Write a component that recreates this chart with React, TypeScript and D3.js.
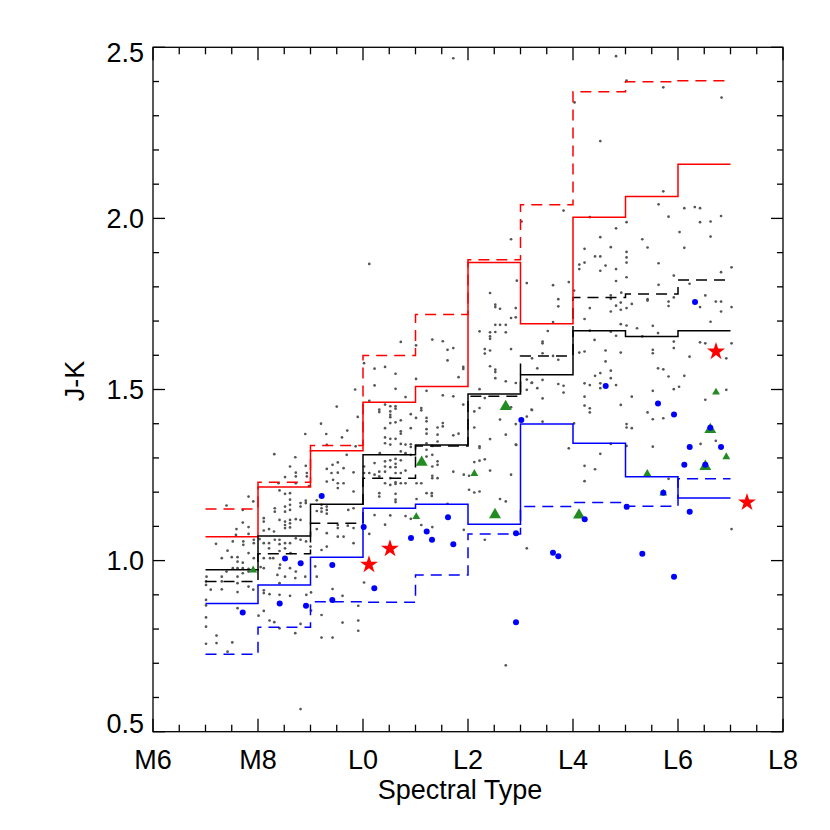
import React from "react";
import * as d3 from "d3";

// ---- Data ----
const binEdges = [7, 8, 9, 10, 11, 12, 13, 14, 15, 16, 17];
const redSolid = [1.070, 1.215, 1.321, 1.463, 1.509, 1.871, 1.692, 2.003, 2.064, 2.158];
const redDashed = [1.151, 1.229, 1.336, 1.599, 1.719, 1.879, 2.040, 2.370, 2.399, 2.402];
const blackSolid = [0.973, 1.072, 1.165, 1.309, 1.338, 1.487, 1.543, 1.672, 1.655, 1.672];
const blackDashed = [0.939, 1.020, 1.109, 1.241, 1.335, 1.480, 1.598, 1.769, 1.779, 1.820];
const blueSolid = [0.875, 0.929, 1.010, 1.153, 1.165, 1.106, 1.399, 1.343, 1.245, 1.183];
const blueDashed = [0.726, 0.805, 0.880, 0.878, 0.958, 1.078, 1.158, 1.170, 1.159, 1.239];

const xTickValues = [6, 8, 10, 12, 14, 16, 18];
const xTickLabels = ["M6", "M8", "L0", "L2", "L4", "L6", "L8"];
const yTickValues = [0.5, 1.0, 1.5, 2.0, 2.5];
const yTickLabels = ["0.5", "1.0", "1.5", "2.0", "2.5"];

const blueDots: [number, number][] = [
  [9.213, 1.189], [8.514, 1.006], [8.813, 0.992], [9.415, 0.987], [10.013, 1.098],
  [8.413, 0.875], [8.914, 0.868], [7.709, 0.848], [9.415, 0.885], [11.619, 1.127],
  [11.213, 1.085], [10.914, 1.066], [11.314, 1.061], [11.720, 1.048], [12.914, 1.080],
  [13.015, 1.411], [10.215, 0.919], [12.914, 0.820], [16.324, 1.756], [14.623, 1.510],
  [15.619, 1.459], [15.924, 1.427], [16.615, 1.388], [16.223, 1.332], [16.819, 1.332],
  [16.120, 1.280], [16.520, 1.280], [15.720, 1.198], [15.023, 1.157], [16.223, 1.143],
  [14.223, 1.121], [13.619, 1.023], [13.720, 1.013], [15.320, 1.020], [15.924, 0.953],
];

// [spt, J-K, large?]
const greenTriangles: [number, number, number][] = [
  [7.908, 0.972, 0], [12.718, 1.450, 1], [11.118, 1.287, 1], [12.120, 1.254, 0],
  [11.015, 1.128, 0], [12.514, 1.134, 1], [16.724, 1.492, 0], [16.615, 1.383, 1],
  [16.920, 1.303, 0], [16.520, 1.275, 1], [15.415, 1.254, 0], [15.720, 1.197, 0],
  [14.114, 1.133, 1],
];

const redStars: [number, number][] = [
  [10.114, 0.988], [10.514, 1.035], [16.724, 1.611], [17.314, 1.170],
];

const grayLateM: [number, number][] = [
  [7.82,1.187],[7.91,1.173],[7.40,1.161],[7.71,1.148],[7.71,1.111],[7.59,1.092],[7.82,1.098],
  [7.82,1.078],[7.58,1.075],[7.92,1.061],[7.92,1.051],[7.72,1.056],[7.72,1.046],[7.52,1.056],
  [7.42,1.029],[7.20,1.049],[7.61,1.010],[7.50,1.010],[7.31,1.007],[7.61,0.997],[7.71,0.994],
  [7.71,0.978],[7.61,0.978],[7.52,0.978],[7.82,1.022],[7.92,1.007],[7.82,0.976],[7.40,0.968],
  [7.02,0.953],[7.31,0.953],[7.61,0.953],[7.71,0.963],[7.82,0.968],
  [8.31,1.311],[8.71,1.302],[9.69,1.309],[9.31,1.338],[9.86,1.334],[8.91,1.277],[8.61,1.275],
  [9.31,1.268],[9.42,1.280],[9.52,1.287],[9.63,1.270],[9.52,1.257],[9.40,1.256],[9.82,1.258],
  [8.72,1.257],[8.72,1.246],[8.93,1.256],[8.93,1.246],[8.515,1.244],[8.39,1.226],[9.31,1.231],
  [9.43,1.236],[9.52,1.226],[9.52,1.212],[9.63,1.226],[9.82,1.202],[8.97,1.218],[8.72,1.226],
  [8.41,1.205],[8.515,1.195],[8.61,1.197],[8.61,1.178],[8.61,1.163],[8.61,1.148],[8.515,1.158],
  [8.515,1.143],[8.32,1.153],[8.32,1.143],[8.11,1.124],[8.11,1.114],[8.41,1.119],[8.515,1.114],
  [8.515,1.104],[8.515,1.095],[8.61,1.119],[8.61,1.109],[8.61,1.097],[8.72,1.121],[8.81,1.119],
  [8.81,1.168],[8.81,1.158],[8.91,1.175],[8.91,1.168],[9.12,1.176],[9.12,1.145],[9.21,1.163],
  [9.21,1.153],[9.21,1.143],[9.31,1.158],[9.31,1.148],[9.31,1.137],[9.72,1.148],[9.82,1.153],
  [9.71,1.102],[9.52,1.104],[9.52,1.095],[9.31,1.080],[9.12,1.092],[9.82,1.095],[9.82,1.051],
  [9.63,1.070],[9.21,1.031],[9.31,1.041],[9.52,1.070],[8.21,1.092],[8.305,1.085],[8.11,1.088],
  [8.03,1.063],[8.11,1.051],[8.21,1.051],[8.21,1.036],[8.32,1.061],[8.41,1.061],[8.41,1.048],
  [8.515,1.051],[8.515,1.036],[8.61,1.051],[8.72,1.065],[8.81,1.061],[8.915,1.056],[9.00,1.041],
  [8.41,1.028],[8.62,1.022],[8.42,0.988],[8.41,0.978],[8.61,0.978],[8.72,0.968],[8.05,0.981],
  [8.11,0.978],[8.11,1.007],[8.23,1.007],[8.29,1.007],[8.37,0.958],[8.515,0.953],[8.71,0.949],
  [8.90,0.953],[9.09,0.983],[9.12,0.953],
  [9.2,1.40],[9.5,1.45],[9.7,1.38],[9.9,1.42],[9.85,1.50],[9.6,1.36],[8.9,1.37],[9.3,1.37],
];

const grayLowM: [number, number][] = [
  [7.01,0.939],[7.01,0.929],[7.31,0.939],[7.61,0.934],[7.82,0.924],[7.91,0.915],[8.11,0.913],
  [8.11,0.905],[8.22,0.902],[8.41,0.934],[8.41,0.900],[8.61,0.897],[8.92,0.900],[9.01,0.907],
  [9.42,0.917],[9.61,0.897],[10.02,0.936],[9.91,0.868],[7.10,0.915],[7.31,0.916],[7.61,0.908],
  [7.01,0.885],[7.01,0.869],[7.61,0.861],[8.01,0.839],[8.11,0.853],[8.22,0.825],[8.31,0.820],
  [8.41,0.802],[8.81,0.815],[8.71,0.788],[9.01,0.854],[9.21,0.841],[9.61,0.819],[9.91,0.825],
  [9.91,0.795],[9.21,0.775],[9.42,0.775],[7.01,0.834],[7.01,0.807],[7.21,0.781],[7.21,0.759],
  [7.01,0.757],[7.51,0.761],[7.42,0.734],[8.81,0.566],[12.72,0.694],
];

const grayEarlyL: [number, number][] = [
  [12.93,1.818],[13.12,1.811],[12.42,1.782],[12.52,1.748],[12.52,1.741],[12.61,1.736],[12.91,1.738],
  [12.82,1.709],[12.91,1.711],[12.52,1.689],[12.61,1.689],[12.72,1.689],[12.22,1.670],[12.42,1.667],
  [12.42,1.655],[12.42,1.648],[12.52,1.668],[12.72,1.667],[12.82,1.618],[12.32,1.618],[12.32,1.605],
  [12.42,1.614],[12.42,1.568],[12.52,1.558],[12.52,1.551],[12.52,1.533],[12.72,1.524],[12.91,1.519],
  [13.12,1.529],[13.12,1.499],[13.21,1.519],[12.22,1.501],[12.32,1.475],[12.22,1.446],
  [12.12,1.436],[12.61,1.412],[12.82,1.448],[13.12,1.421],[13.21,1.441],[12.91,1.399],[12.72,1.368],
  [12.91,1.339],[12.12,1.389],[12.22,1.334],[12.42,1.355],[10.72,1.639],[11.01,1.629],[11.32,1.646],
  [11.52,1.641],[11.61,1.616],[11.72,1.621],[11.61,1.585],[11.91,1.566],[11.91,1.560],[11.82,1.536],
  [10.02,1.577],[10.22,1.561],[10.42,1.566],[10.62,1.546],[11.01,1.531],[10.22,1.512],[10.62,1.502],
  [11.21,1.496],[10.81,1.478],[11.52,1.483],[11.72,1.480],[10.12,1.467],[10.42,1.456],[10.52,1.451],
  [10.62,1.451],[10.62,1.444],[10.31,1.441],[10.31,1.434],[10.52,1.436],[10.52,1.426],[10.52,1.419],
  [11.11,1.446],[11.11,1.439],[11.91,1.456],[10.91,1.428],[11.01,1.417],[10.72,1.410],[10.62,1.404],
  [10.52,1.402],[10.42,1.387],[11.21,1.417],[11.21,1.407],[11.52,1.402],[11.52,1.392],[11.42,1.389],
  [11.21,1.384],[10.91,1.387],[10.72,1.378],[10.72,1.371],[10.42,1.360],[10.52,1.356],[10.62,1.356],
  [11.42,1.368],[11.72,1.366],[11.82,1.371],[11.21,1.371],
  [10.42,1.343],[10.52,1.339],[10.72,1.341],[10.81,1.339],[10.91,1.340],[10.91,1.332],[11.21,1.343],
  [11.32,1.335],[11.42,1.348],[10.32,1.314],[10.72,1.319],[10.81,1.314],[10.91,1.309],[11.21,1.324],
  [11.32,1.309],[11.21,1.304],[10.22,1.285],[10.42,1.290],[10.52,1.293],[10.62,1.297],[10.62,1.283],
  [10.72,1.293],[10.42,1.275],[10.52,1.273],[10.62,1.273],[10.02,1.275],[11.32,1.275],[11.42,1.290],
  [11.42,1.280],[10.31,1.260],[10.42,1.260],[10.62,1.256],[10.72,1.256],[10.81,1.263],[10.02,1.256],
  [10.12,1.256],[10.22,1.251],[10.31,1.246],[10.52,1.241],[11.32,1.248],[11.32,1.241],[11.42,1.241],
  [10.42,1.226],[10.52,1.221],[10.62,1.229],[10.62,1.224],[10.72,1.226],[10.81,1.226],[11.02,1.226],
  [11.11,1.226],[10.31,1.197],[10.31,1.187],[10.62,1.195],[10.62,1.178],[10.62,1.171],[11.02,1.180],
  [11.21,1.197],[11.31,1.197],[11.31,1.189],[11.72,1.260],[11.92,1.251],[12.02,1.248],[12.12,1.288],
  [12.22,1.292],[12.32,1.296],[12.22,1.329],[12.42,1.263],[12.82,1.251],[12.92,1.338],[12.02,1.207],
  [12.12,1.199],[12.22,1.202],[12.61,1.180],[12.72,1.173],[11.61,1.166],[10.22,1.133],[10.52,1.132],
  [10.81,1.130],[10.91,1.122],[10.42,1.105],[10.12,1.078],[11.11,1.104],[11.32,1.098],[11.92,1.090],
  [12.32,1.061],[13.12,1.036],
  [11.72,2.468],[13.02,1.991],[12.82,1.939],[10.12,1.867],
];

const grayMidL: [number, number][] = [
  [14.82,2.474],[15.02,2.403],[15.72,2.383],[16.83,2.353],[14.03,2.339],[14.52,2.226],
  [15.72,2.079],[13.82,2.023],[14.32,2.004],[15.63,2.041],[16.12,2.030],[16.32,2.033],[16.42,2.030],
  [15.82,2.005],[16.82,2.007],[15.02,1.989],[16.42,1.989],[16.62,1.991],[14.82,1.971],[16.03,1.960],
  [16.62,1.947],[14.52,1.945],[15.32,1.939],[14.72,1.916],[14.22,1.911],[15.42,1.915],[16.12,1.914],
  [15.02,1.902],[14.42,1.889],[14.52,1.889],[15.02,1.886],[14.22,1.871],[14.12,1.865],[14.12,1.852],
  [14.62,1.862],[15.02,1.871],[15.63,1.869],[14.82,1.852],[14.52,1.847],[16.82,1.843],[17.02,1.857],
  [15.92,1.833],[14.82,1.817],[15.02,1.828],[13.92,1.814],[13.62,1.805],[15.63,1.806],[16.22,1.809],
  [14.02,1.789],[14.92,1.783],[14.72,1.775],[14.72,1.765],[16.52,1.775],[15.92,1.769],[15.42,1.764],
  [13.72,1.764],
  [13.72,1.743],[14.32,1.738],[14.72,1.728],[14.82,1.745],[14.91,1.754],[14.91,1.733],[15.02,1.738],
  [15.12,1.750],[15.42,1.760],[15.82,1.757],[15.82,1.744],[16.42,1.741],[16.72,1.757],[16.82,1.757],
  [16.82,1.728],[17.02,1.741],[14.22,1.706],[16.62,1.698],[13.62,1.697],[14.91,1.691],[15.02,1.687],
  [15.22,1.679],[15.52,1.686],[15.62,1.665],[14.32,1.672],[14.72,1.669],[14.82,1.657],[15.32,1.655],
  [13.52,1.671],[13.42,1.640],[13.42,1.635],[14.41,1.645],[15.92,1.640],[15.92,1.621],[16.42,1.638],
  [16.52,1.635],[17.02,1.635],[14.62,1.614],[14.12,1.608],[14.22,1.611],[14.91,1.608],[15.52,1.616],
  [15.52,1.606],[16.22,1.596],[16.92,1.591],[13.42,1.606],[13.62,1.598],[13.72,1.587],[13.22,1.591],
  [14.62,1.582],[13.32,1.562],[15.62,1.562],[15.72,1.559],[14.72,1.555],[14.52,1.548],[14.42,1.540],
  [14.72,1.533],[15.82,1.538],[16.12,1.540],[13.42,1.528],[13.22,1.520],[14.22,1.518],[14.32,1.513],
  [14.52,1.518],[14.52,1.504],[14.82,1.513],[16.02,1.508],[15.92,1.501],[13.72,1.516],[13.82,1.511],
  [13.32,1.504],[13.82,1.491],[15.52,1.496],[16.92,1.499],[16.52,1.470],[13.42,1.474],[14.22,1.479],
  [15.12,1.479],[14.22,1.453],[14.32,1.445],[14.32,1.433],[14.91,1.455],[15.42,1.433],[15.52,1.413],
  [15.72,1.416],[13.22,1.440],[13.42,1.406],[15.02,1.399],[15.02,1.389],[15.12,1.387],[14.02,1.401],
  [13.92,1.328],[14.22,1.277],[14.42,1.267],[14.22,1.232],[14.52,1.312],[14.72,1.341],[15.02,1.335],
  [15.52,1.333],[16.43,1.341],[16.72,1.350],[15.82,1.239],[17.02,1.092],
];

const W = 830, H = 830;
const x = d3.scaleLinear().domain([6, 18]).range([153, 783]);
const y = d3.scaleLinear().domain([0.5, 2.5]).range([731.7, 47.3]);

function stepPath(vals: number[]) {
  const pts: [number, number][] = vals.map((v, i) => [binEdges[i], v]);
  pts.push([binEdges[binEdges.length - 1], vals[vals.length - 1]]);
  return d3.line<[number, number]>().x(d => x(d[0])).y(d => y(d[1])).curve(d3.curveStepAfter)(pts) || "";
}

const FONT = "'Liberation Sans', Arial, Helvetica, sans-serif";

export default function App() {
  const xMinor = d3.range(6, 18.001, 0.5);
  const yMinor = d3.range(0.5, 2.5001, 0.1);
  const starPath = d3.symbol().type(d3.symbolStar).size(100)() || "";
  const triBig = d3.symbol().type(d3.symbolTriangle).size(62)() || "";
  const triSmall = d3.symbol().type(d3.symbolTriangle).size(27)() || "";
  const gray = [...grayLateM, ...grayLowM, ...grayEarlyL, ...grayMidL];
  const lines: { v: number[]; c: string; dash?: string }[] = [
    { v: redDashed, c: "#ff0000", dash: "11,7" },
    { v: blackDashed, c: "#000000", dash: "11,7" },
    { v: blueDashed, c: "#0000ff", dash: "11,7" },
    { v: redSolid, c: "#ff0000" },
    { v: blackSolid, c: "#000000" },
    { v: blueSolid, c: "#0000ff" },
  ];
  return (
    <svg width={W} height={H} style={{ position: "absolute", left: 0, top: 0, background: "#fff" }}>
      <rect x={0} y={0} width={W} height={H} fill="#fff" />
      {gray.map((d, i) => (
        <circle key={"g" + i} cx={x(d[0])} cy={y(d[1])} r={1.35} fill="#555555" />
      ))}
      {lines.map((l, i) => (
        <path key={"l" + i} d={stepPath(l.v)} fill="none" stroke={l.c} strokeWidth={1.5}
          strokeDasharray={l.dash} />
      ))}
      {greenTriangles.map((d, i) => (
        <path key={"t" + i} d={d[2] ? triBig : triSmall} transform={`translate(${x(d[0])},${y(d[1])})`}
          fill="#228b22" />
      ))}
      {blueDots.map((d, i) => (
        <circle key={"b" + i} cx={x(d[0])} cy={y(d[1])} r={3} fill="#0000ff" />
      ))}
      {redStars.map((d, i) => (
        <path key={"s" + i} d={starPath} transform={`translate(${x(d[0])},${y(d[1])})`} fill="#ff0000" />
      ))}
      {/* frame */}
      <rect x={153} y={47.3} width={630} height={684.4} fill="none" stroke="#000" strokeWidth={1.3} />
      {xMinor.map((v, i) => {
        const major = Math.abs(v / 2 - Math.round(v / 2)) < 1e-6;
        const len = major ? 13 : 7;
        return (
          <g key={"xt" + i}>
            <line x1={x(v)} x2={x(v)} y1={731.7} y2={731.7 - len} stroke="#000" strokeWidth={1.3} />
            <line x1={x(v)} x2={x(v)} y1={47.3} y2={47.3 + len} stroke="#000" strokeWidth={1.3} />
          </g>
        );
      })}
      {yMinor.map((v, i) => {
        const major = Math.abs(v * 2 - Math.round(v * 2)) < 1e-6;
        const len = major ? 12 : 6;
        return (
          <g key={"yt" + i}>
            <line x1={153} x2={153 + len} y1={y(v)} y2={y(v)} stroke="#000" strokeWidth={1.3} />
            <line x1={783} x2={783 - len} y1={y(v)} y2={y(v)} stroke="#000" strokeWidth={1.3} />
          </g>
        );
      })}
      {xTickValues.map((v, i) => (
        <text key={"xl" + i} x={x(v)} y={769} textAnchor="middle" fontFamily={FONT} fontSize={27} fill="#000">
          {xTickLabels[i]}
        </text>
      ))}
      {yTickValues.map((v, i) => {
        let by = y(v) + 9.5;
        if (i === 0) by = y(v) + 1.3;
        if (i === yTickValues.length - 1) by = y(v) + 15;
        return (
          <text key={"yl" + i} x={144} y={by} textAnchor="end" fontFamily={FONT} fontSize={27} fill="#000">
            {yTickLabels[i]}
          </text>
        );
      })}
      <text x={460} y={799} textAnchor="middle" fontFamily={FONT} fontSize={27} fill="#000">Spectral Type</text>
      <text transform="translate(84,381) rotate(-90)" textAnchor="middle" fontFamily={FONT} fontSize={27} fill="#000">J-K</text>
    </svg>
  );
}
